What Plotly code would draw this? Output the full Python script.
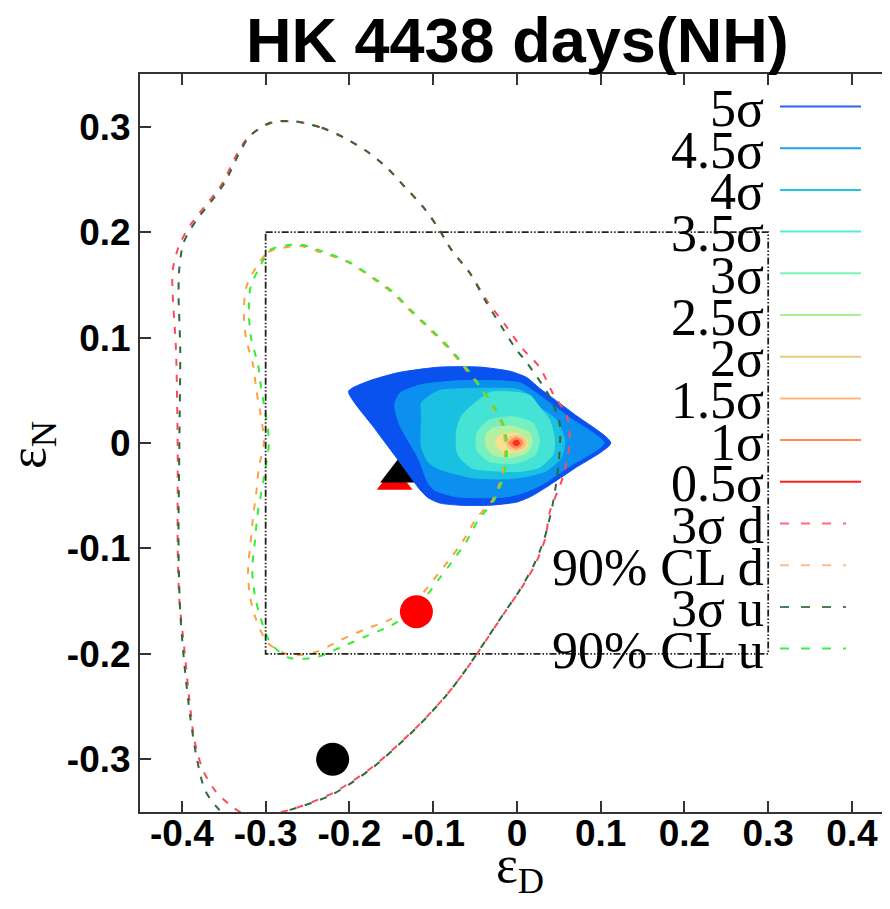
import plotly.graph_objects as go

# ---------------- data ----------------
# filled significance regions, outermost (5 sigma) to innermost (0.5 sigma)
LEVEL_NAMES = ["5σ", "4.5σ", "4σ", "3.5σ", "3σ", "2.5σ", "2σ", "1.5σ", "1σ", "0.5σ"]

lvl_5_x = [-0.201, -0.176, -0.140, -0.092, -0.044, -0.008, 0.012, 0.027, 0.069, 0.112, 0.069, 0.033, 0.016, 0.0, -0.032, -0.068, -0.092, -0.106, -0.115, -0.140, -0.170]
lvl_5_y = [0.049, 0.059, 0.067, 0.072, 0.072, 0.068, 0.062, 0.052, 0.027, 0.0, -0.024, -0.043, -0.051, -0.056, -0.059, -0.059, -0.057, -0.052, -0.045, -0.018, 0.014]

lvl_45_x = [-0.146, -0.140, -0.116, -0.072, -0.020, 0.004, 0.022, 0.063, 0.104, 0.063, 0.033, 0.012, -0.012, -0.044, -0.072, -0.098, -0.106, -0.118, -0.140]
lvl_45_y = [0.036, 0.047, 0.055, 0.059, 0.059, 0.057, 0.048, 0.024, 0.0, -0.022, -0.038, -0.046, -0.051, -0.052, -0.051, -0.045, -0.038, -0.014, 0.017]

lvl_4_x = [-0.114, -0.114, -0.104, -0.092, -0.032, 0.0, 0.016, 0.027, 0.047, 0.057, 0.053, 0.036, 0.016, -0.012, -0.053, -0.092, -0.106, -0.114]
lvl_4_y = [0.025, 0.038, 0.045, 0.050, 0.052, 0.051, 0.045, 0.034, 0.022, 0.003, -0.014, -0.026, -0.031, -0.034, -0.033, -0.025, -0.018, -0.004]

lvl_35_x = [-0.072, -0.066, -0.056, -0.032, 0.0, 0.016, 0.027, 0.039, 0.045, 0.043, 0.027, 0.004, -0.012, -0.053, -0.068, -0.072]
lvl_35_y = [0.012, 0.026, 0.034, 0.048, 0.048, 0.045, 0.034, 0.022, 0.003, -0.011, -0.023, -0.027, -0.027, -0.024, -0.014, -0.007]

lvl_3_x = [-0.048, -0.041, -0.032, -0.005, 0.019, 0.027, 0.022, 0.0, -0.032, -0.044, -0.048]
lvl_3_y = [0.009, 0.017, 0.022, 0.025, 0.019, 0.003, -0.011, -0.019, -0.018, -0.011, -0.007]

lvl_25_x = [-0.038, -0.036, -0.029, -0.005, 0.016, 0.018, 0.012, -0.008, -0.029, -0.036]
lvl_25_y = [0.003, 0.009, 0.014, 0.016, 0.009, 0.0, -0.009, -0.014, -0.011, -0.005]

lvl_2_x = [-0.026, -0.023, -0.014, 0.0, 0.012, 0.011, -0.002, -0.018, -0.024]
lvl_2_y = [0.001, 0.006, 0.009, 0.009, 0.003, -0.005, -0.009, -0.008, -0.004]

lvl_15_x = [-0.013, -0.010, -0.001, 0.007, 0.011, 0.007, -0.001, -0.010]
lvl_15_y = [0.0, 0.005, 0.007, 0.005, 0.0, -0.005, -0.007, -0.005]

lvl_1_x = [-0.010, -0.007, -0.001, 0.005, 0.007, 0.005, -0.001, -0.007]
lvl_1_y = [0.0, 0.003, 0.005, 0.003, 0.0, -0.003, -0.005, -0.003]

lvl_05_x = [-0.005, -0.003, -0.001, 0.002, 0.003, 0.002, -0.001, -0.003]
lvl_05_y = [0.0, 0.002, 0.0025, 0.002, 0.0, -0.002, -0.0025, -0.002]

# dashed contours
sig3_d_x = [-0.265, -0.233, -0.205, -0.178, -0.155, -0.134, -0.112, -0.094, -0.078, -0.056, -0.035, -0.014, 0.006, 0.027, 0.043, 0.060, 0.063, 0.055, 0.039, 0.034, 0.022, 0.005, -0.014, -0.035, -0.058, -0.083, -0.119, -0.172, -0.220, -0.271, -0.300, -0.325, -0.343, -0.361, -0.375, -0.385, -0.391, -0.397, -0.403, -0.405, -0.405, -0.407, -0.411, -0.411, -0.403, -0.388, -0.369, -0.351, -0.337, -0.321, -0.295, -0.265]
sig3_d_y = [0.305, 0.299, 0.289, 0.276, 0.261, 0.243, 0.224, 0.204, 0.183, 0.161, 0.134, 0.112, 0.090, 0.072, 0.047, 0.025, 0.0, -0.032, -0.066, -0.090, -0.115, -0.138, -0.160, -0.185, -0.212, -0.238, -0.269, -0.307, -0.332, -0.348, -0.352, -0.352, -0.343, -0.329, -0.310, -0.282, -0.244, -0.196, -0.149, -0.101, -0.007, 0.088, 0.142, 0.164, 0.188, 0.209, 0.228, 0.247, 0.270, 0.290, 0.303, 0.305]

sig3_u_x = [-0.265, -0.233, -0.205, -0.178, -0.155, -0.134, -0.112, -0.094, -0.078, -0.056, -0.037, -0.018, -0.002, 0.012, 0.039, 0.051, 0.051, 0.048, 0.042, 0.033, 0.020, 0.003, -0.016, -0.037, -0.060, -0.085, -0.121, -0.174, -0.222, -0.271, -0.310, -0.340, -0.355, -0.372, -0.382, -0.390, -0.397, -0.402, -0.404, -0.403, -0.402, -0.404, -0.403, -0.398, -0.383, -0.365, -0.348, -0.334, -0.319, -0.294, -0.265]
sig3_u_y = [0.305, 0.299, 0.289, 0.276, 0.261, 0.243, 0.224, 0.204, 0.183, 0.161, 0.134, 0.110, 0.090, 0.076, 0.044, 0.019, -0.007, -0.032, -0.061, -0.090, -0.116, -0.140, -0.162, -0.187, -0.214, -0.240, -0.271, -0.309, -0.334, -0.348, -0.356, -0.355, -0.348, -0.330, -0.300, -0.260, -0.210, -0.160, -0.100, 0.0, 0.090, 0.142, 0.166, 0.190, 0.211, 0.229, 0.248, 0.271, 0.291, 0.304, 0.305]

cl90_d_x = [-0.311, -0.297, -0.280, -0.259, -0.235, -0.203, -0.172, -0.148, -0.131, -0.110, -0.092, -0.080, -0.060, -0.044, -0.029, -0.017, -0.014, -0.018, -0.029, -0.048, -0.062, -0.078, -0.095, -0.112, -0.131, -0.150, -0.179, -0.211, -0.239, -0.271, -0.297, -0.312, -0.319, -0.321, -0.318, -0.315, -0.311, -0.308, -0.302, -0.306, -0.311, -0.315, -0.323, -0.326, -0.323, -0.311]
cl90_d_y = [0.167, 0.181, 0.185, 0.187, 0.181, 0.172, 0.156, 0.142, 0.128, 0.112, 0.098, 0.088, 0.069, 0.053, 0.034, 0.015, -0.007, -0.032, -0.054, -0.071, -0.090, -0.108, -0.125, -0.142, -0.157, -0.167, -0.176, -0.187, -0.198, -0.201, -0.190, -0.166, -0.144, -0.120, -0.095, -0.070, -0.046, -0.023, 0.001, 0.027, 0.050, 0.074, 0.098, 0.123, 0.148, 0.167]

cl90_u_x = [-0.307, -0.295, -0.278, -0.257, -0.233, -0.201, -0.170, -0.146, -0.129, -0.108, -0.090, -0.078, -0.058, -0.043, -0.027, -0.015, -0.012, -0.016, -0.027, -0.046, -0.060, -0.076, -0.093, -0.110, -0.129, -0.150, -0.179, -0.211, -0.239, -0.271, -0.294, -0.306, -0.313, -0.316, -0.313, -0.310, -0.305, -0.300, -0.296, -0.300, -0.305, -0.309, -0.317, -0.320, -0.318, -0.307]
cl90_u_y = [0.167, 0.183, 0.187, 0.188, 0.182, 0.172, 0.156, 0.142, 0.128, 0.112, 0.098, 0.088, 0.069, 0.053, 0.034, 0.015, -0.007, -0.032, -0.054, -0.073, -0.093, -0.111, -0.129, -0.147, -0.162, -0.173, -0.183, -0.194, -0.203, -0.204, -0.190, -0.166, -0.144, -0.120, -0.095, -0.070, -0.046, -0.023, 0.001, 0.027, 0.050, 0.074, 0.098, 0.123, 0.148, 0.167]

# rectangle (dash-dot box)
box_x = [-0.3, 0.3, 0.3, -0.3, -0.3]
box_y = [0.2, 0.2, -0.2, -0.2, 0.2]

# point markers
tri_black = (-0.142, -0.030)
tri_red = (-0.146, -0.037)
dot_red = (-0.120, -0.160)
dot_black = (-0.220, -0.300)

# ticks
x_tickvals = [-0.4, -0.3, -0.2, -0.1, 0.0, 0.1, 0.2, 0.3, 0.4]
x_ticktext = ["-0.4", "-0.3", "-0.2", "-0.1", "0", "0.1", "0.2", "0.3", "0.4"]
y_tickvals = [-0.3, -0.2, -0.1, 0.0, 0.1, 0.2, 0.3]
y_ticktext = ["-0.3", "-0.2", "-0.1", "0", "0.1", "0.2", "0.3"]

LEGEND_LABELS = ["5σ", "4.5σ", "4σ", "3.5σ", "3σ", "2.5σ", "2σ", "1.5σ", "1σ", "0.5σ",
                 "3σ d", "90% CL d", "3σ u", "90% CL u"]

# ---------------- styles ----------------
FILL_COLORS = ["#0a52ef", "#0b90f0", "#19c0e2", "#45e3d6", "#74f0c2", "#b4f0a0",
               "#f2e294", "#ffbf80", "#ff8a58", "#ff2a20"]
LEGEND_LINE_COLORS = ["#2a66f0", "#1aa3ee", "#1fc6e2", "#50ecd8", "#78f5b6", "#a8f294",
                      "#e6cd82", "#ffb67a", "#ff8a55", "#ff1e1e",
                      "#ff6a78", "#ffbb88", "#4a8052", "#44f044"]
RED_D = "#ff4a5a"
ORANGE_D = "#ffa040"
DKGREEN_U = "#2f6a3a"
GREEN_U = "#33ee33"
DASH = "7px,9px"

# page body has an 8px margin: positions below are given in window pixels
OFF = 8
W, H = 890, 909
ML, MR, MT, MB = 132, 5, 66, 105
PW, PH = W - ML - MR, H - MT - MB


def paper_x(px):
    return (px - OFF - ML) / PW


def paper_y(py):
    return (MT + PH - (py - OFF)) / PH


fig = go.Figure()

# triangles (behind filled contours)
fig.add_trace(go.Scatter(x=[tri_red[0]], y=[tri_red[1]], mode="markers",
                         marker=dict(symbol="triangle-up", size=31, color="#ff0000", line=dict(width=0)),
                         hoverinfo="skip", showlegend=False))
fig.add_trace(go.Scatter(x=[tri_black[0]], y=[tri_black[1]], mode="markers",
                         marker=dict(symbol="triangle-up", size=31, color="#000000", line=dict(width=0)),
                         hoverinfo="skip", showlegend=False))

levels = [(lvl_5_x, lvl_5_y), (lvl_45_x, lvl_45_y), (lvl_4_x, lvl_4_y), (lvl_35_x, lvl_35_y),
          (lvl_3_x, lvl_3_y), (lvl_25_x, lvl_25_y), (lvl_2_x, lvl_2_y), (lvl_15_x, lvl_15_y),
          (lvl_1_x, lvl_1_y), (lvl_05_x, lvl_05_y)]
for (lx, ly), col, name in zip(levels, FILL_COLORS, LEVEL_NAMES):
    fig.add_trace(go.Scatter(x=lx + [lx[0]], y=ly + [ly[0]], mode="lines", fill="toself",
                             fillcolor=col, line=dict(color=col, width=1, shape="spline", smoothing=0.6),
                             name=name, hoverinfo="skip", showlegend=False))

# dashed contours
for cx, cy, col in [(sig3_d_x, sig3_d_y, RED_D), (sig3_u_x, sig3_u_y, DKGREEN_U),
                    (cl90_d_x, cl90_d_y, ORANGE_D), (cl90_u_x, cl90_u_y, GREEN_U)]:
    fig.add_trace(go.Scatter(x=cx, y=cy, mode="lines",
                             line=dict(color=col, width=2, dash=DASH, shape="spline", smoothing=0.8),
                             hoverinfo="skip", showlegend=False))

# dash-dot box
fig.add_trace(go.Scatter(x=box_x, y=box_y, mode="lines",
                         line=dict(color="#222222", width=1.8, dash="7px,2px,1.5px,2px,1.5px,2px"),
                         hoverinfo="skip", showlegend=False))

# circles
fig.add_trace(go.Scatter(x=[dot_red[0]], y=[dot_red[1]], mode="markers",
                         marker=dict(symbol="circle", size=33, color="#ff0000", line=dict(width=0)),
                         hoverinfo="skip", showlegend=False))
fig.add_trace(go.Scatter(x=[dot_black[0]], y=[dot_black[1]], mode="markers",
                         marker=dict(symbol="circle", size=33, color="#000000", line=dict(width=0)),
                         hoverinfo="skip", showlegend=False))

# manual gnuplot-style key
shapes = []
annotations = []
row0, step = 106.5, 41.7
for i, (lab, col) in enumerate(zip(LEGEND_LABELS, LEGEND_LINE_COLORS)):
    yy = row0 + i * step
    dashed = i >= 10
    shapes.append(dict(type="line", xref="paper", yref="paper",
                       x0=paper_x(780), x1=paper_x(846 if dashed else 861),
                       y0=paper_y(yy), y1=paper_y(yy),
                       line=dict(color=col, width=2, dash="9px,12px" if dashed else "solid")))
    annotations.append(dict(text=lab, xref="paper", yref="paper", x=paper_x(766), y=paper_y(yy + 2),
                            xanchor="right", yanchor="middle", showarrow=False,
                            font=dict(family="Liberation Serif", size=52, color="black")))

# axis titles and main title
annotations.append(dict(text="ε<sub>D</sub>", xref="paper", yref="paper", x=paper_x(520), y=paper_y(868),
                        xanchor="center", yanchor="middle", showarrow=False,
                        font=dict(family="Liberation Serif", size=52, color="black")))
annotations.append(dict(text="ε<sub>N</sub>", xref="paper", yref="paper", x=paper_x(31), y=paper_y(445),
                        xanchor="center", yanchor="middle", showarrow=False, textangle=-90,
                        font=dict(family="Liberation Serif", size=52, color="black")))
annotations.append(dict(text="<b>HK 4438 days(NH)</b>", xref="paper", yref="paper", x=paper_x(517),
                        y=paper_y(40), xanchor="center", yanchor="middle", showarrow=False,
                        font=dict(family="Liberation Sans", size=63, color="black")))

axis_common = dict(showline=True, linecolor="#333333", linewidth=2, mirror="ticks",
                   ticks="inside", ticklen=11, tickwidth=1.5, tickcolor="#333333",
                   showgrid=False, zeroline=False, automargin=False,
                   tickfont=dict(family="Liberation Sans", size=37, color="black", weight="bold"))

fig.update_layout(
    width=W, height=H,
    margin=dict(l=ML, r=MR, t=MT, b=MB),
    paper_bgcolor="white", plot_bgcolor="white",
    showlegend=False,
    xaxis=dict(range=[-0.45, 0.449], tickvals=x_tickvals, ticktext=x_ticktext,
               ticklabelstandoff=-12, **axis_common),
    yaxis=dict(range=[-0.35, 0.35], tickvals=y_tickvals, ticktext=y_ticktext,
               ticklabelstandoff=0, **axis_common),
    shapes=shapes,
    annotations=annotations,
)

fig.write_html("out.html")
